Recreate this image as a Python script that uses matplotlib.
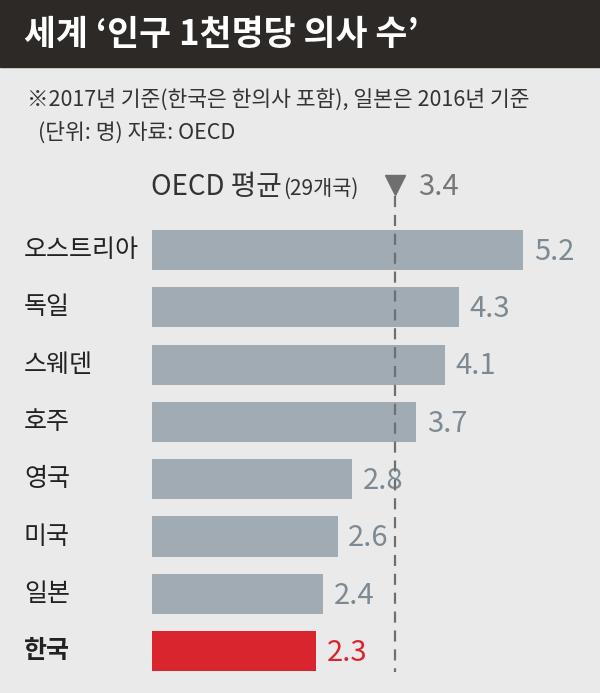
import matplotlib
matplotlib.use("Agg")
import matplotlib.pyplot as plt

plt.rcParams['font.family'] = ['Noto Sans CJK KR', 'DejaVu Sans']

# data
countries = ['오스트리아', '독일', '스웨덴', '호주', '영국', '미국', '일본', '한국']
doctors = [5.2, 4.3, 4.1, 3.7, 2.8, 2.6, 2.4, 2.3]
oecd_avg = 3.4
title = "세계 \u2018인구 1천명당 의사 수\u2019"
note1 = "※2017년 기준(한국은 한의사 포함), 일본은 2016년 기준"
note2 = "(단위: 명) 자료: OECD"

W, H = 600, 693
bg = '#e9eae9'
bar_grey = '#a0abb3'
val_grey = '#7d8a93'
red = '#d9262e'

fig = plt.figure(figsize=(W / 100, H / 100), dpi=100, facecolor=bg)

# header band
fig.patches.append(plt.Rectangle((0, 1 - 67 / H), 1, 67 / H, transform=fig.transFigure,
                                 color='#2d2926', zorder=0))
fig.text(24 / W, 1 - 35 / H, title, color='white', fontsize=25, fontweight='bold',
         va='center', ha='left')
fig.text(27 / W, 1 - 100 / H, note1, color='#333333', fontsize=15.5, va='center')
fig.text(38 / W, 1 - 133 / H, note2, color='#333333', fontsize=15.5, va='center')

# bar axes: x=0 at 152px, 71.35 px per unit
px_unit = 71.35
top_px, bot_px = 193, 693
row_px, first_px = 57.3, 250
ax = fig.add_axes([152 / W, 0, (W - 152) / W, (bot_px - top_px) / H])
ax.set_facecolor('none')
ax.set_xlim(0, (W - 152) / px_unit)
ax.set_ylim((bot_px - first_px) / row_px, (top_px - first_px) / row_px)
ax.axis('off')

ypos = list(range(len(countries)))
colors = [red if c == '한국' else bar_grey for c in countries]
ax.barh(ypos, doctors, height=0.70, color=colors, zorder=1)

for y, c, v in zip(ypos, countries, doctors):
    vc = red if c == '한국' else val_grey
    ax.text(v + 0.15, y + 0.03, f"{v}", color=vc, fontsize=21, va='center', ha='left')
    ax.text(-128 / px_unit, y, c, color='#222222', fontsize=18, va='center', ha='left',
            fontweight='bold' if c == '한국' else 'normal')

# OECD average line
ax.vlines(oecd_avg, (196 - first_px) / row_px, (672 - first_px) / row_px,
          colors='#6f6f6f', linestyles=(0, (5, 3.5)), linewidth=1.6, zorder=3,
          clip_on=False)
ax.plot([oecd_avg], [(185 - first_px) / row_px], marker='v', markersize=14,
        color='#6f6f6f', clip_on=False, zorder=4)
ax.text(oecd_avg + 0.33, (187 - first_px) / row_px, f"{oecd_avg}", color='#777777',
        fontsize=21, va='center', ha='left', clip_on=False)

t1 = fig.text(151 / W, 1 - 187 / H, "OECD 평균", color='#333333', fontsize=20,
              va='center', ha='left')
fig.canvas.draw()
ext = t1.get_window_extent()
fig.text(ext.x1 / W + 1 / W, 1 - 189 / H, "(29개국)", color='#333333', fontsize=15,
         va='center', ha='left')

fig.savefig('out.png', dpi=100, facecolor=bg)
